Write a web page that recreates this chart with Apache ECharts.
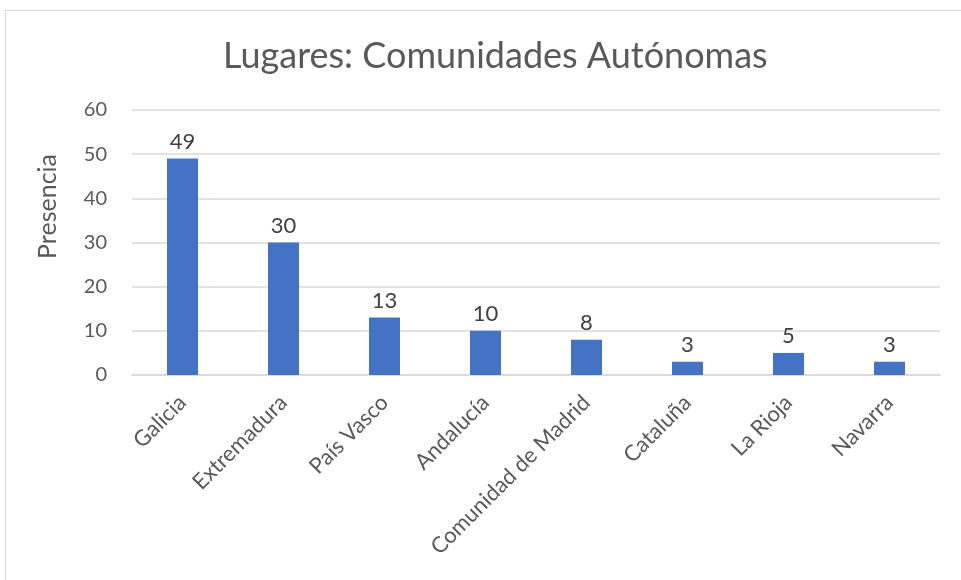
<!DOCTYPE html>
<html>
<head>
<meta charset="utf-8">
<script src="https://cdn.jsdelivr.net/npm/echarts@6/dist/echarts.min.js"></script>
<style>
html, body { margin: 0; padding: 0; background: #fff; }
#frame { position: absolute; left: 5px; top: 10px; width: 960px; height: 580px; border: 1px solid #d9d9d9; box-sizing: border-box; }
#chart { width: 961px; height: 580px; }
</style>
</head>
<body>
<div id="frame"></div>
<div id="chart"></div>
<script>
var categories = ["Galicia", "Extremadura", "País Vasco", "Andalucía", "Comunidad de Madrid", "Cataluña", "La Rioja", "Navarra"];
var presencia = [49, 30, 13, 10, 8, 3, 5, 3];
var yTicks = [0, 60, 10];

var font = "Lato";
var chart = echarts.init(document.getElementById("chart"));
chart.setOption({
    animation: false,
    title: {
        text: "Lugares: Comunidades Autónomas",
        left: 218,
        top: 33,
        textStyle: { fontFamily: font, fontSize: 36, fontWeight: "normal", color: "#595959" }
    },
    graphic: [{
        type: "text",
        left: 35,
        top: 154,
        rotation: Math.PI / 2,
        style: { text: "Presencia", font: "25px " + font, fill: "#595959" }
    }],
    grid: { left: 132, right: 21, top: 110, bottom: 205 },
    xAxis: {
        type: "category",
        data: categories,
        axisLine: { lineStyle: { color: "#d9d9d9", width: 1.5 } },
        axisTick: { show: false },
        axisLabel: { rotate: 45, fontFamily: font, fontSize: 22, color: "#595959", margin: 24, interval: 0 }
    },
    yAxis: {
        type: "value",
        min: yTicks[0],
        max: yTicks[1],
        interval: yTicks[2],
        axisLine: { show: false },
        axisTick: { show: false },
        splitLine: { lineStyle: { color: "#d9d9d9", width: 1.5 } },
        axisLabel: { fontFamily: font, fontSize: 20, color: "#595959", margin: 25 }
    },
    series: [{
        type: "bar",
        data: presencia,
        barWidth: 31,
        itemStyle: { color: "#4472c4" },
        label: { show: true, position: "top", distance: 6, fontFamily: font, fontSize: 22, color: "#404040" }
    }]
});
</script>
</body>
</html>
